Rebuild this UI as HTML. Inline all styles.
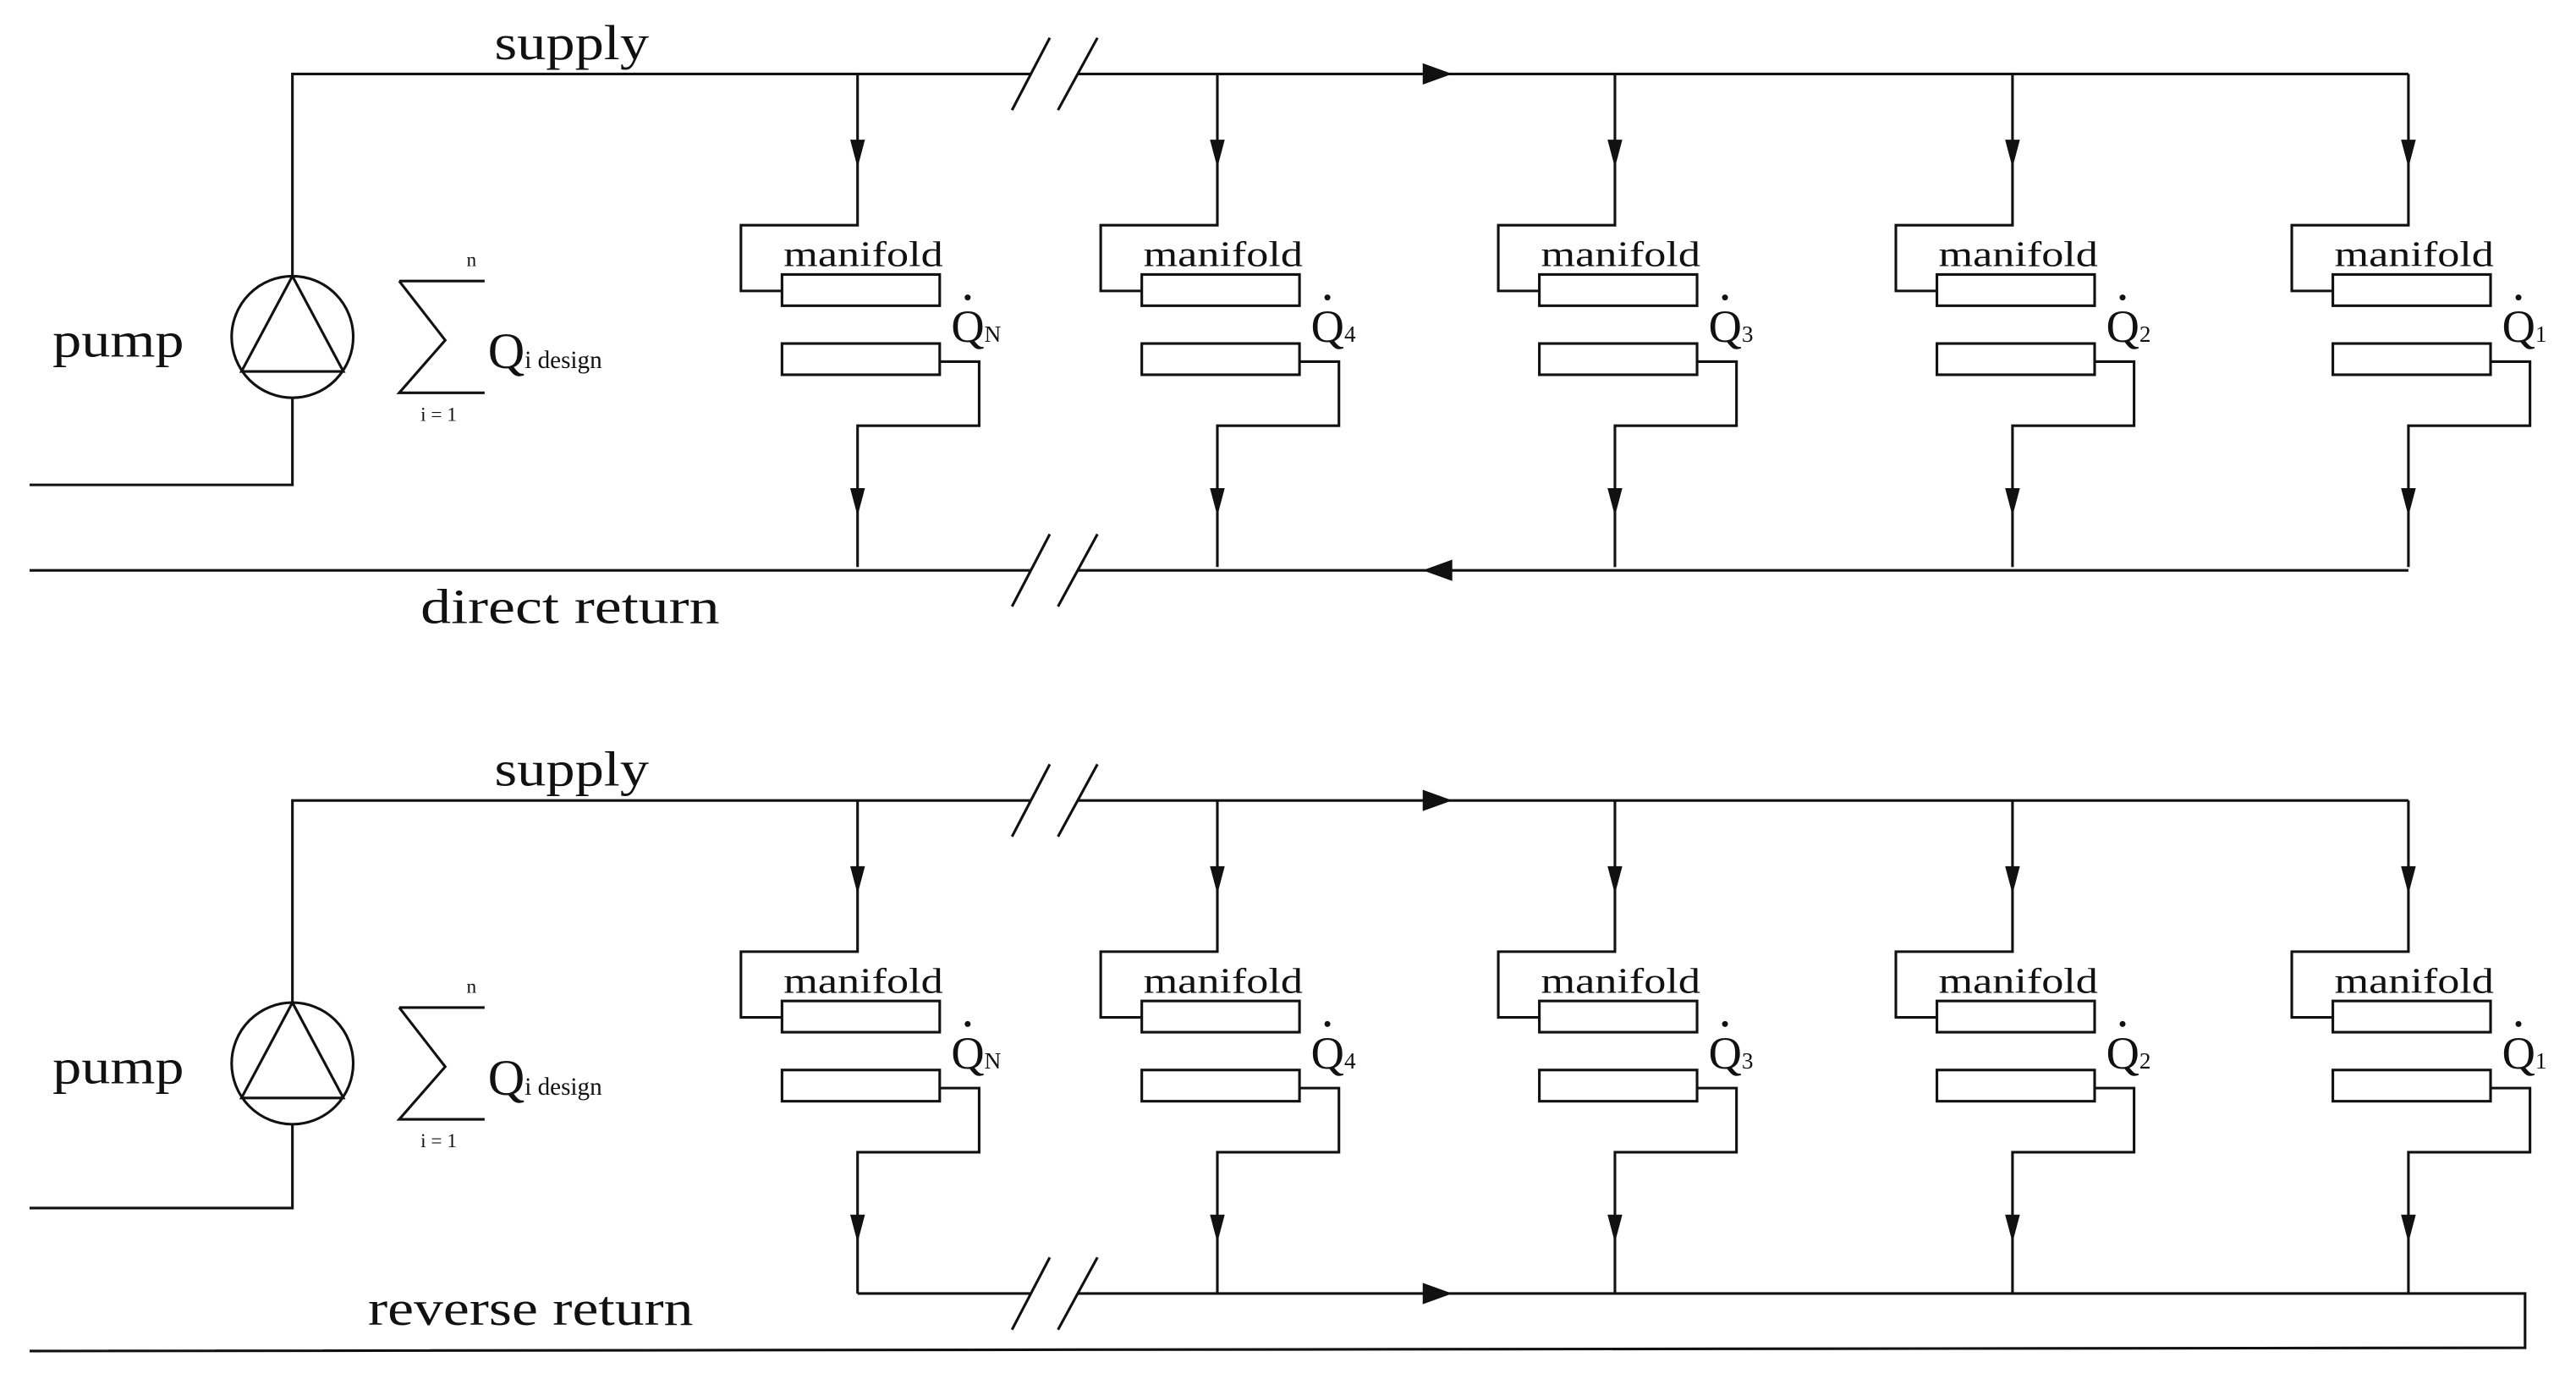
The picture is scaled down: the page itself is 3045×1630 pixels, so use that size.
<!DOCTYPE html>
<html><head><meta charset="utf-8"><style>
html,body{margin:0;padding:0;background:#fff;}
svg{display:block;}
text{font-family:"Liberation Serif",serif;fill:#111;}
</style></head><body>
<svg width="3045" height="1630" viewBox="0 0 1568 839" preserveAspectRatio="none" xmlns="http://www.w3.org/2000/svg">
<defs>
<g id="br" fill="none" stroke="#111" stroke-width="1.6">
<path d="M0,0 V92 H-71 V132 H-46"/>
<rect x="-46" y="122" width="96" height="19"/>
<rect x="-46" y="164" width="96" height="19"/>
<path d="M50,175 H74 V214 H0 V300"/>
<polygon points="-4.5,40 4.5,40 0,57" fill="#111" stroke="none"/>
<polygon points="-4.5,252 4.5,252 0,269" fill="#111" stroke="none"/>
</g>
<g id="pump" fill="none" stroke="#111" stroke-width="1.6">
<ellipse cx="178" cy="205" rx="37" ry="37"/>
<polygon points="178,168 147,226 209,226"/>
<path d="M243,171 H295 M243,171 L271,207 L243,239 H295"/>
</g>
<g id="lbl">
<g font-size="22">
<text x="477" y="162" textLength="97" lengthAdjust="spacingAndGlyphs">manifold</text>
<text x="696" y="162" textLength="97" lengthAdjust="spacingAndGlyphs">manifold</text>
<text x="938" y="162" textLength="97" lengthAdjust="spacingAndGlyphs">manifold</text>
<text x="1180" y="162" textLength="97" lengthAdjust="spacingAndGlyphs">manifold</text>
<text x="1421" y="162" textLength="97" lengthAdjust="spacingAndGlyphs">manifold</text>
</g>
<g font-size="28">
<text x="579" y="208">Q<tspan font-size="14">N</tspan></text>
<text x="798" y="208">Q<tspan font-size="14">4</tspan></text>
<text x="1040" y="208">Q<tspan font-size="14">3</tspan></text>
<text x="1282" y="208">Q<tspan font-size="14">2</tspan></text>
<text x="1523" y="208">Q<tspan font-size="14">1</tspan></text>
</g>
<g fill="#111">
<circle cx="589" cy="181" r="1.8"/><circle cx="808" cy="181" r="1.8"/><circle cx="1050" cy="181" r="1.8"/><circle cx="1292" cy="181" r="1.8"/><circle cx="1533" cy="181" r="1.8"/>
</g>
<g font-size="12">
<text x="284" y="162">n</text><text x="256" y="256">i = 1</text>
</g>
<text x="297" y="224" font-size="31">Q<tspan font-size="15">i design</tspan></text>
<text x="32" y="217" font-size="30" textLength="80" lengthAdjust="spacingAndGlyphs">pump</text>
<text x="301" y="36" font-size="30" textLength="94" lengthAdjust="spacingAndGlyphs">supply</text>
</g>
</defs>

<!-- ===== TOP ===== -->
<g fill="none" stroke="#111" stroke-width="1.6">
<path d="M178,168 V45 H627 M656,45 H1466"/>
<path d="M178,242 V295 H18"/>
<path d="M18,347 H627 M656,347 H1466"/>
<path d="M616,67 L639,23 M644,67 L668,23"/>
<path d="M616,369 L639,325 M644,369 L668,325"/>
</g>
<polygon points="866,38.5 884,45 866,51.5" fill="#111"/>
<polygon points="884,340.5 866,347 884,353.5" fill="#111"/>
<use href="#pump"/>
<use href="#br" transform="translate(522,45)"/>
<use href="#br" transform="translate(741,45)"/>
<use href="#br" transform="translate(983,45)"/>
<use href="#br" transform="translate(1225,45)"/>
<use href="#br" transform="translate(1466,45)"/>
<use href="#lbl"/>
<text x="256" y="379" font-size="30" textLength="182" lengthAdjust="spacingAndGlyphs">direct  return</text>

<!-- ===== BOTTOM ===== -->
<g fill="none" stroke="#111" stroke-width="1.6">
<path d="M178,610 V487 H627 M656,487 H1466"/>
<path d="M178,684 V735 H18"/>
<path d="M522,787 H627 M656,787 H1537 V820 L18,822"/>
<path d="M616,509 L639,465 M644,509 L668,465"/>
<path d="M616,809 L639,765 M644,809 L668,765"/>
</g>
<polygon points="866,480.5 884,487 866,493.5" fill="#111"/>
<polygon points="866,780.5 884,787 866,793.5" fill="#111"/>
<use href="#pump" transform="translate(0,442)"/>
<use href="#br" transform="translate(522,487)"/>
<use href="#br" transform="translate(741,487)"/>
<use href="#br" transform="translate(983,487)"/>
<use href="#br" transform="translate(1225,487)"/>
<use href="#br" transform="translate(1466,487)"/>
<use href="#lbl" transform="translate(0,442)"/>
<text x="224" y="806" font-size="30" textLength="198" lengthAdjust="spacingAndGlyphs">reverse return</text>
</svg>
</body></html>
